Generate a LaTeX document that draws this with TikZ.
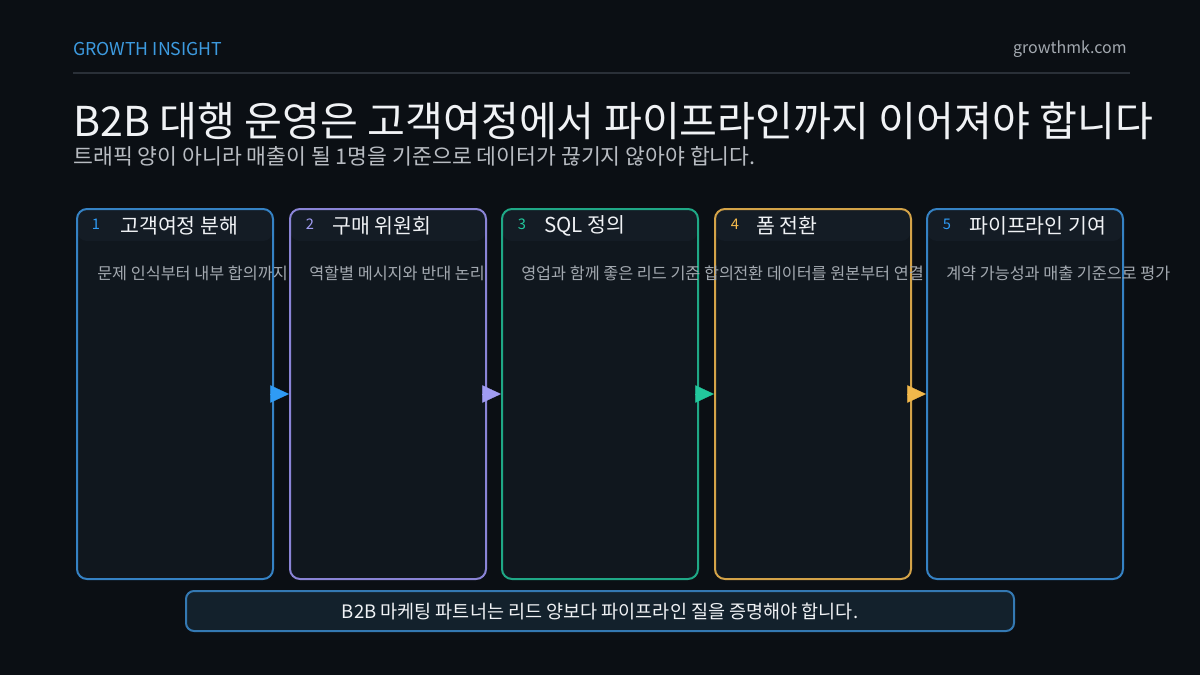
\documentclass[tikz,border=0pt]{standalone}
\usepackage{fontspec}
\setmainfont{Noto Sans CJK KR}
\usetikzlibrary{arrows.meta}

\definecolor{bgcol}{HTML}{0B0F14}
\definecolor{cardfill}{HTML}{10171E}
\definecolor{hdrfill}{HTML}{141C25}
\definecolor{rulecol}{HTML}{2A3038}
\definecolor{cblue}{HTML}{3582C4}
\definecolor{cpurple}{HTML}{8A84D6}
\definecolor{cgreen}{HTML}{1FA886}
\definecolor{cgold}{HTML}{D4A348}
\definecolor{ablue}{HTML}{2F9BF5}
\definecolor{apurple}{HTML}{A09CF2}
\definecolor{agreen}{HTML}{22C79C}
\definecolor{agold}{HTML}{F2B84B}
\definecolor{txtwhite}{HTML}{F0F2F5}
\definecolor{txtgray}{HTML}{A3A9B0}
\definecolor{subgray}{HTML}{B8BCC2}
\definecolor{brandblue}{HTML}{3D9BE0}
\definecolor{footfill}{HTML}{13212C}
\definecolor{footline}{HTML}{3479B3}

\begin{document}
\begin{tikzpicture}[x=0.75pt, y=-0.75pt,
    card/.style={draw=#1, fill=cardfill, rounded corners=7.5pt, line width=1.5pt,
      minimum width=147pt, minimum height=277.5pt,
      path picture={\fill[hdrfill] (path picture bounding box.north west)
        rectangle ([yshift=-24pt]path picture bounding box.north east);}},
    num/.style={text=#1, font=\fontsize{11pt}{13pt}\selectfont},
    ttl/.style={anchor=west, text=txtwhite, inner sep=0pt, font=\fontsize{15.4pt}{18pt}\selectfont},
    desc/.style={anchor=west, text=txtgray, inner sep=0pt, font=\fontsize{12.2pt}{15pt}\selectfont},
    flow/.style={#1, line width=0.2pt, shorten <=-3pt, -{Triangle[length=14pt, width=13pt]}}]
  % Background
  \useasboundingbox (0,0) rectangle (1200,675);
  \fill[bgcol] (0,0) rectangle (1200,675);
  % Header
  \node[anchor=west, inner sep=0pt, text=brandblue, font=\fontsize{13.3pt}{16pt}\selectfont] (brand) at (73,49) {GROWTH INSIGHT};
  \node[anchor=east, inner sep=0pt, text=txtgray, font=\fontsize{12pt}{14pt}\selectfont] (site) at (1127,49) {growthmk.com};
  \draw[rulecol, line width=1.5pt] (73,73) -- (1130,73);
  % Title and subtitle
  \node[anchor=west, inner sep=0pt, text=txtwhite, font=\fontsize{30.9pt}{36pt}\selectfont] (title) at (73,121) {B2B 대행 운영은 고객여정에서 파이프라인까지 이어져야 합니다};
  \node[anchor=west, inner sep=0pt, text=subgray, font=\fontsize{16.2pt}{19pt}\selectfont] (sub) at (73,156) {트래픽 양이 아니라 매출이 될 1명을 기준으로 데이터가 끊기지 않아야 합니다.};
  % Cards
  \node[card=cblue] (k1) at (175,394) {};
  \node[card=cpurple] (k2) at (388,394) {};
  \node[card=cgreen] (k3) at (600,394) {};
  \node[card=cgold] (k4) at (813,394) {};
  \node[card=cblue] (k5) at (1025,394) {};
  % Card headers
  \node[num=ablue] (n1) at (96,224) {1};
  \node[ttl] (t1) at (120,226) {고객여정 분해};
  \node[num=apurple] (n2) at (310,224) {2};
  \node[ttl] (t2) at (332,226) {구매 위원회};
  \node[num=agreen] (n3) at (522,224) {3};
  \node[ttl] (t3) at (544,226) {SQL 정의};
  \node[num=agold] (n4) at (735,224) {4};
  \node[ttl] (t4) at (756,226) {폼 전환};
  \node[num=ablue] (n5) at (947,224) {5};
  \node[ttl] (t5) at (969,226) {파이프라인 기여};
  % Card texts
  \node[desc] (d1) at (97,273) {문제 인식부터 내부 합의까지};
  \node[desc] (d2) at (309,273) {역할별 메시지와 반대 논리};
  \node[desc] (d3) at (521,273) {영업과 함께 좋은 리드 기준 합의};
  \node[desc] (d4) at (733,273) {전환 데이터를 원본부터 연결};
  \node[desc] (d5) at (946,273) {계약 가능성과 매출 기준으로 평가};
  % Flow arrows
  \draw[flow=ablue] (k1.east) -- (k2.west);
  \draw[flow=apurple] (k2.east) -- (k3.west);
  \draw[flow=agreen] (k3.east) -- (k4.west);
  \draw[flow=agold] (k4.east) -- (k5.west);
  % Footer
  \node[draw=footline, fill=footfill, line width=1.5pt, rounded corners=6pt,
    minimum width=621pt, minimum height=30pt, text=txtwhite,
    font=\fontsize{13.9pt}{16pt}\selectfont] (foot) at (600,611) {B2B 마케팅 파트너는 리드 양보다 파이프라인 질을 증명해야 합니다.};
\end{tikzpicture}
\end{document}
